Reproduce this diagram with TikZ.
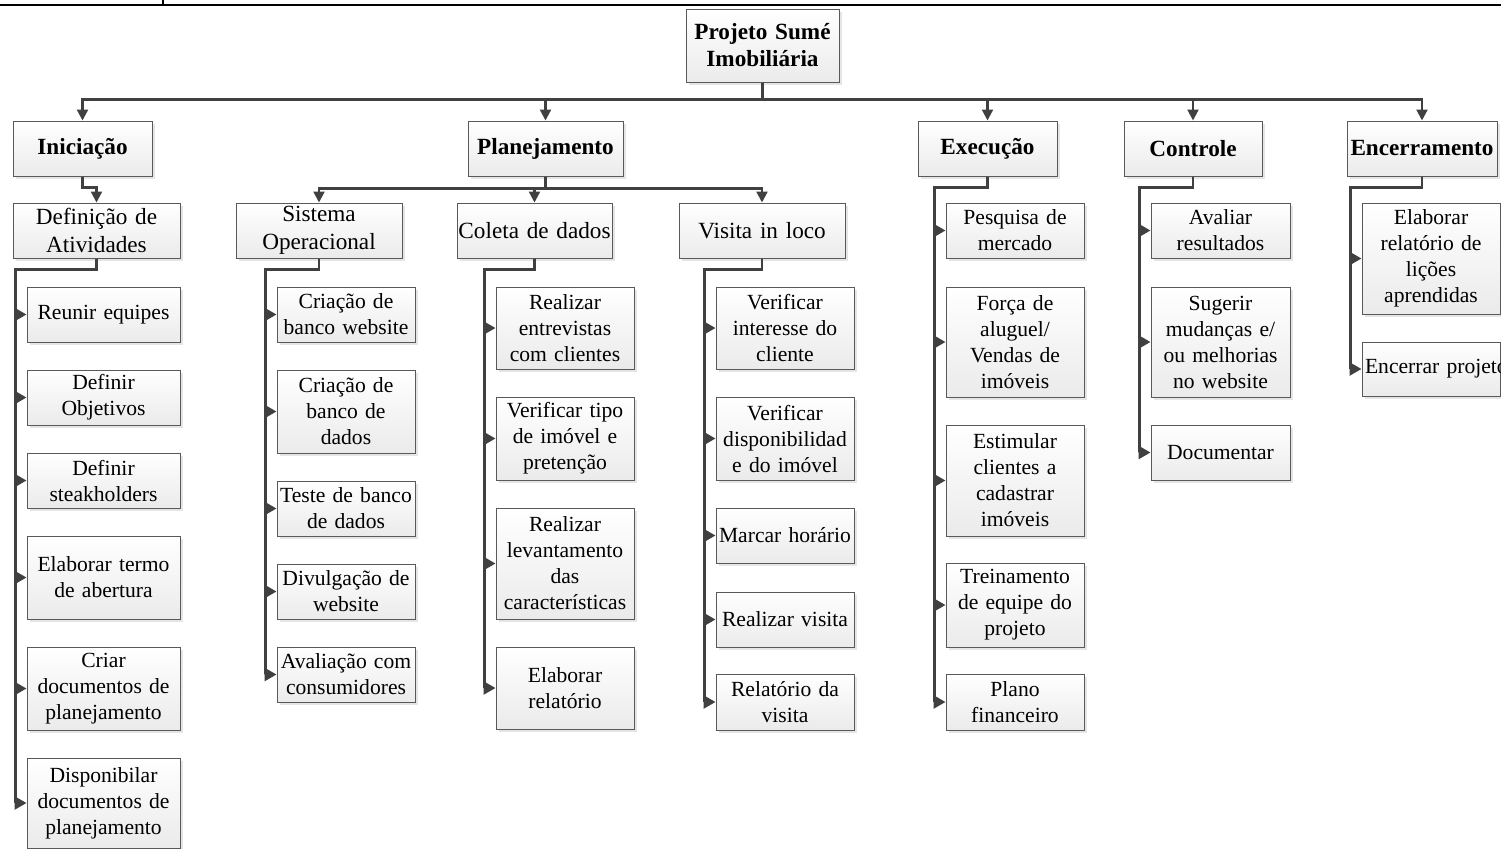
\documentclass[tikz,border=0pt]{standalone}
\usepackage{fontspec}
\setmainfont{Liberation Serif}
\usetikzlibrary{arrows.meta,shadows}
\begin{document}
\begin{tikzpicture}[x=0.5pt,y=-0.5pt,
  box/.style={draw=black!65, line width=0.5pt, top color=white, bottom color=black!8,
    inner sep=0pt, align=center,
    drop shadow={shadow xshift=1.5pt, shadow yshift=-1.5pt, fill=black!22, opacity=0.45}},
  top/.style={box, font=\fontsize{11.6}{13.5}\selectfont\bfseries},
  mid/.style={box, font=\fontsize{11.6}{14}\selectfont},
  leaf/.style={box, font=\fontsize{10.8}{13}\selectfont, text width=69pt},
  conn/.style={draw=black!75, line width=1.1pt},
  arr/.style={conn, -{Triangle[length=5.5pt,width=5.5pt]}},
  rail/.style={conn, line width=1.3pt, -{Triangle[length=6pt,width=6.5pt]}}
]
\fill[white] (0,0) rectangle (1501,848);
\useasboundingbox (0,0) rectangle (1501,848);
\draw[line width=0.9pt] (0,5) -- (1501,5);
\draw[line width=0.9pt] (163,0) -- (163,5);

% level 0 and 1
\node[top, text width=76.5pt, minimum height=36.5pt] (root) at (762.5,45.5) {Projeto Sumé\\Imobiliária};
\node[top, text width=69.5pt, minimum height=27.5pt] (ini) at (82.5,148.5) {Iniciação};
\node[top, text width=77.5pt, minimum height=27.5pt] (plan) at (545.5,148.5) {Planejamento};
\node[top, text width=69.5pt, minimum height=27.5pt] (exe) at (987.5,148.5) {Execução};
\node[top, text width=69pt, minimum height=27.5pt] (ctl) at (1193,148.5) {Controle};
\node[top, text width=75pt, minimum height=27.5pt] (enc) at (1422,148.5) {Encerramento};

% level 2
\node[mid, text width=83.5pt, minimum height=27.5pt] (def) at (96.5,230.5) {Definição de\\Atividades};
\node[mid, text width=83pt, minimum height=27.5pt] (sis) at (319,230.5) {Sistema\\Operacional};
\node[mid, text width=77.5pt, minimum height=27.5pt] (col) at (534.5,230.5) {Coleta de dados};
\node[mid, text width=83pt, minimum height=27.5pt] (vis) at (762,230.5) {Visita in loco};

% Iniciacao leaves
\node[leaf, text width=76.5pt, minimum height=27.5pt] (i1) at (103.5,314.5) {Reunir equipes};
\node[leaf, text width=76.5pt, minimum height=27.5pt] (i2) at (103.5,397.5) {Definir\\Objetivos};
\node[leaf, text width=76.5pt, minimum height=27.5pt] (i3) at (103.5,480.5) {Definir\\steakholders};
\node[leaf, text width=76.5pt, minimum height=41.5pt] (i4) at (103.5,577.5) {Elaborar termo\\de abertura};
\node[leaf, text width=76.5pt, minimum height=41.5pt] (i5) at (103.5,688.5) {Criar\\documentos de\\planejamento};
\node[leaf, text width=76.5pt, minimum height=45pt] (i6) at (103.5,803) {Disponibilar\\documentos de\\planejamento};

% Sistema leaves
\node[leaf, minimum height=27.5pt] (s1) at (346,314.5) {Criação de\\banco website};
\node[leaf, minimum height=41.5pt] (s2) at (346,411.5) {Criação de\\banco de\\dados};
\node[leaf, minimum height=27.5pt] (s3) at (346,508.5) {Teste de banco\\de dados};
\node[leaf, minimum height=27.5pt] (s4) at (346,591.5) {Divulgação de\\website};
\node[leaf, minimum height=27.5pt] (s5) at (346,674.5) {Avaliação com\\consumidores};

% Coleta leaves
\node[leaf, minimum height=41pt] (c1) at (565,328) {Realizar\\entrevistas\\com clientes};
\node[leaf, minimum height=41.5pt] (c2) at (565,438.5) {Verificar tipo\\de imóvel e\\pretenção};
\node[leaf, minimum height=55.5pt] (c3) at (565,563.5) {Realizar\\levantamento\\das\\características};
\node[leaf, minimum height=41pt] (c4) at (565,688) {Elaborar\\relatório};

% Visita leaves
\node[leaf, minimum height=41pt] (v1) at (785,328) {Verificar\\interesse do\\cliente};
\node[leaf, minimum height=41.5pt] (v2) at (785,438.5) {Verificar\\disponibilidad\\e do imóvel};
\node[leaf, minimum height=27.5pt] (v3) at (785,535.5) {Marcar horário};
\node[leaf, minimum height=27.5pt] (v4) at (785,619.5) {Realizar visita};
\node[leaf, minimum height=28pt] (v5) at (785,702) {Relatório da\\visita};

% Execucao leaves
\node[leaf, minimum height=27.5pt] (e1) at (1015,230.5) {Pesquisa de\\mercado};
\node[leaf, minimum height=55pt] (e2) at (1015,342) {Força de\\aluguel/\\Vendas de\\imóveis};
\node[leaf, minimum height=55.5pt] (e3) at (1015,480.5) {Estimular\\clientes a\\cadastrar\\imóveis};
\node[leaf, minimum height=42pt] (e4) at (1015,605) {Treinamento\\de equipe do\\projeto};
\node[leaf, minimum height=28pt] (e5) at (1015,702) {Plano\\financeiro};

% Controle leaves
\node[leaf, text width=69.5pt, minimum height=27.5pt] (k1) at (1220.5,230.5) {Avaliar\\resultados};
\node[leaf, text width=69.5pt, minimum height=55pt] (k2) at (1220.5,342) {Sugerir\\mudanças e/\\ou melhorias\\no website};
\node[leaf, text width=69.5pt, minimum height=27.5pt] (k3) at (1220.5,452.5) {Documentar};

% Encerramento leaves
\node[leaf, minimum height=55.5pt] (n1) at (1431,258.5) {Elaborar\\relatório de\\lições\\aprendidas};
\node[leaf, minimum height=27pt] (n2) at (1431,369) {\hspace*{1.5pt}\mbox{Encerrar projeto}\hss};

% connectors level 1
\foreach \c in {ini,plan,exe,ctl,enc}
  \draw[arr] (root.south) -- ++(0,17) -| (\c.north);
% level 2
\draw[arr] (ini.south) -- ++(0,11) -| (def.north);
\foreach \c in {sis,col,vis}
  \draw[arr] (plan.south) -- ++(0,12) -| (\c.north);
% rails
\foreach \p/\list in {def/{i1,i2,i3,i4,i5,i6}, sis/{s1,s2,s3,s4,s5}, col/{c1,c2,c3,c4},
    vis/{v1,v2,v3,v4,v5}, exe/{e1,e2,e3,e4,e5}, ctl/{k1,k2,k3}, enc/{n1,n2}}
  \foreach \c in \list
    \draw[rail] (\p.south) -- ++(0,11) -| ([xshift=-5.5pt]\c.west) -- (\c.west);
\end{tikzpicture}
\end{document}
